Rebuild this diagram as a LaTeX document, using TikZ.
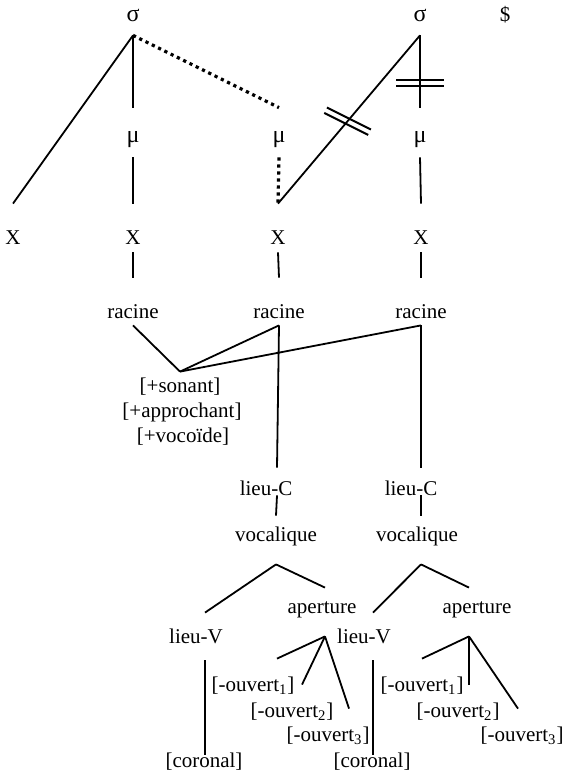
\documentclass[tikz,border=0pt]{standalone}
\usepackage{fontspec}
\setmainfont{Liberation Serif}
\usepackage{tikz}
\usetikzlibrary{positioning, calc}

\begin{document}
\begin{tikzpicture}[
  x=0.5pt, y=-0.5pt,
  every node/.style={font=\fontsize{10.5}{12.5}\selectfont, anchor=base, inner sep=0pt},
  syllable/.style={font=\fontsize{12}{14}\selectfont, text depth=6.5pt},
  mora/.style={font=\fontsize{12}{14}\selectfont, text height=17.5pt, text depth=7pt},
  slot/.style={text height=20pt, text depth=4pt},
  rootnode/.style={text height=20pt, text depth=3.5pt},
  feature/.style={text height=10pt},
  lieu/.style={text height=13.5pt, text depth=0pt},
  vocal/.style={text height=12.5pt, text depth=11.5pt},
  daughter/.style={text height=15pt, text depth=8.5pt},
  degree/.style={text height=16pt},
  terminal/.style={text height=6pt},
  line/.style={draw, line width=0.9pt},
  assoc/.style={draw, line width=1.6pt, dash pattern=on 1.6pt off 1.9pt},
  cut/.style={draw, line width=1pt}
]
\useasboundingbox (0,0) rectangle (563,775);

% === SYLLABES ===
\node[syllable] (sigA) at (133,22) {σ};
\node[syllable] (sigB) at (420,22) {σ};
\node (dollar) at (505,22) {\$};

% === MORES ===
\node[mora] (muA) at (133,143) {μ};
\node[mora] (muB) at (279,143) {μ};
\node[mora] (muC) at (420,143) {μ};

% === SQUELETTE ===
\node[slot] (xA) at (13,244) {X};
\node[slot] (xB) at (133,244) {X};
\node[slot] (xC) at (278,244) {X};
\node[slot] (xD) at (421,244) {X};

% === RACINES ===
\node[rootnode] (racA) at (133,318) {racine};
\node[rootnode] (racB) at (279,318) {racine};
\node[rootnode] (racC) at (421,318) {racine};

% === TRAITS ===
\node[feature] (sonant) at (180,392) {[+sonant]};
\node (approchant) at (182,417) {[+approchant]};
\node (vocoide) at (183,442) {[+vocoïde]};

% === LIEU-C / VOCALIQUE ===
\node[lieu] (lcA) at (266,495) {lieu-C};
\node[lieu] (lcB) at (411,495) {lieu-C};
\node[vocal] (vocA) at (276,541) {vocalique};
\node[vocal] (vocB) at (417,541) {vocalique};

% === LIEU-V / APERTURE ===
\node[daughter] (lvA) at (196,643) {lieu-V};
\node[daughter] (lvB) at (364,643) {lieu-V};
\node[vocal] (apA) at (322,613) {aperture};
\node[vocal] (apB) at (477,613) {aperture};

% === OUVERTURE ===
\node[degree] (ouvA1) at (253,691) {[-ouvert\textsubscript{1}]};
\node[degree] (ouvA2) at (292,717) {[-ouvert\textsubscript{2}]};
\node[degree] (ouvA3) at (328,741) {[-ouvert\textsubscript{3}]};
\node[degree] (ouvB1) at (422,691) {[-ouvert\textsubscript{1}]};
\node[degree] (ouvB2) at (458,717) {[-ouvert\textsubscript{2}]};
\node[degree] (ouvB3) at (522,741) {[-ouvert\textsubscript{3}]};
\node[terminal] (corA) at (204,767) {[coronal]};
\node[terminal] (corB) at (372,767) {[coronal]};

% === LIENS PROSODIQUES ===
\draw[line] (sigA.south) -- (xA.north);
\draw[line] (sigA.south) -- (muA.north);
\draw[assoc] (sigA.south) -- (muB.north);
\draw[line] (muA.south) -- (xB.north);
\draw[assoc] (muB.south) -- (xC.north);
\draw[line] (xC.north) -- (sigB.south);
\draw[line] (sigB.south) -- (muC.north);
\draw[line] (muC.south) -- (xD.north);

% === COUPURES ===
\coordinate (cutA) at ($(xC.north)!0.49!(sigB.south)$);
\coordinate (cutB) at ($(sigB.south)!0.66!(muC.north)$);
\draw[cut] ([shift={(-20.65,-13.7)}]cutA) -- ([shift={(23.35,8.3)}]cutA);
\draw[cut] ([shift={(-23.35,-8.3)}]cutA) -- ([shift={(20.65,13.7)}]cutA);
\foreach \d in {-3,3}
  \draw[cut] ([shift={(-24,\d)}]cutB) -- ([shift={(24,\d)}]cutB);

% === LIENS SEGMENTAUX ===
\foreach \s/\r in {xB/racA, xC/racB, xD/racC}
  \draw[line] (\s.south) -- (\r.north);
\foreach \r in {racA, racB, racC}
  \draw[line] (\r.south) -- (sonant.north);

\draw[line] (racB.south) -- ([xshift=5.5pt]lcA.north);
\draw[line] (racC.south) -- ([xshift=5pt]lcB.north);
\draw[line] ([xshift=5.5pt]lcA.south) -- (vocA.north);
\draw[line] ([xshift=5pt]lcB.south) -- ([xshift=2pt]vocB.north);

\draw[line] (vocA.south) -- ([xshift=4.5pt]lvA.north);
\draw[line] (vocA.south) -- ([xshift=1.5pt]apA.north);
\draw[line] ([xshift=2pt]vocB.south) -- ([xshift=4.5pt]lvB.north);
\draw[line] ([xshift=2pt]vocB.south) -- ([xshift=-4pt]apB.north);

\draw[line] ([xshift=4.5pt]lvA.south) -- ([xshift=0.5pt]corA.north);
\draw[line] ([xshift=4.5pt]lvB.south) -- ([xshift=0.5pt]corB.north);

\draw[line] ([xshift=1.5pt]apA.south) -- ([xshift=12pt]ouvA1.north);
\draw[line] ([xshift=1.5pt]apA.south) -- ([xshift=5pt]ouvA2.north);
\draw[line] ([xshift=1.5pt]apA.south) -- ([xshift=10.5pt]ouvA3.north);
\draw[line] ([xshift=-4pt]apB.south) -- (ouvB1.north);
\draw[line] ([xshift=-4pt]apB.south) -- ([xshift=5.5pt]ouvB2.north);
\draw[line] ([xshift=-4pt]apB.south) -- ([xshift=-2pt]ouvB3.north);

\end{tikzpicture}
\end{document}
